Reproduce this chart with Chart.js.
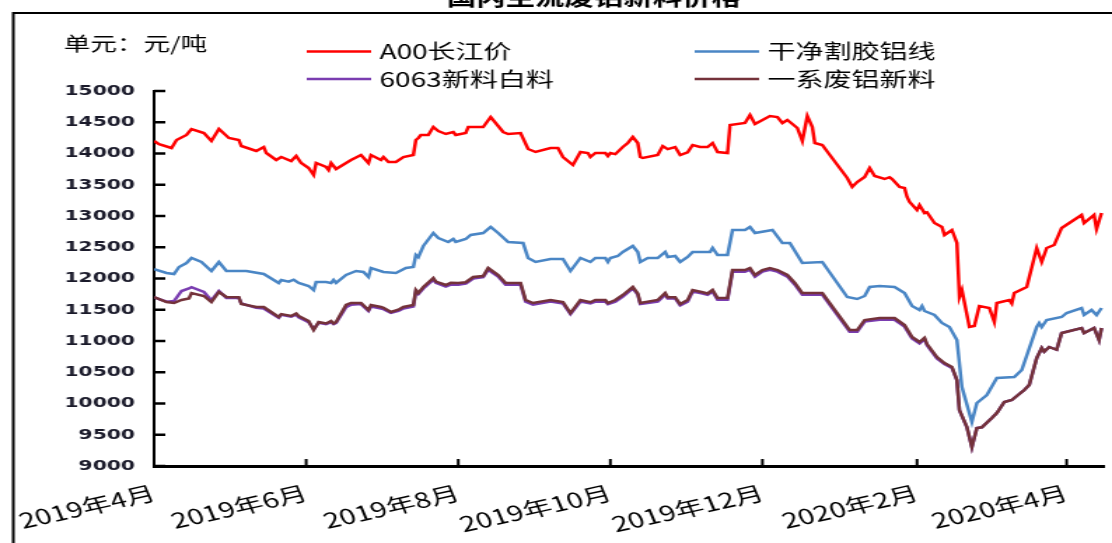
<!DOCTYPE html>
<html>
<head>
<meta charset="utf-8">
<script src="https://cdn.jsdelivr.net/npm/chart.js@4.4.1/dist/chart.umd.min.js"></script>
<style>
  html, body { margin: 0; padding: 0; background: #fff; overflow: hidden; }
  /* o original vem esticado na horizontal: desenha estreito e estica com CSS */
  #wrap { width: 794px; height: 543px; transform: scaleX(1.4005); transform-origin: 0 0; }
</style>
</head>
<body>
<div id="wrap"><canvas id="grafico"></canvas></div>
<script>
// dias contados a partir de 2019-04-01
const tickDias = [0, 61, 122, 183, 244, 306, 366];
const tickRotulos = ['2019年4月', '2019年6月', '2019年8月', '2019年10月', '2019年12月', '2020年2月', '2020年4月'];

// A00长江价
const diasA00 = [
  0, 2, 7, 9, 13, 15, 20, 23, 26, 30,
  34, 35, 41, 44, 45, 49, 51, 55, 57, 59,
  62, 64, 65, 69, 70, 71, 73, 79, 83, 86,
  87, 91, 92, 94, 97, 100, 104, 105, 106, 107,
  110, 112, 114, 117, 120, 121, 125, 126, 132, 135,
  140, 142, 147, 150, 153, 159, 162, 164, 168, 171,
  174, 175, 177, 181, 182, 183, 185, 188, 190, 192,
  194, 195, 196, 202, 204, 206, 209, 211, 214, 216,
  219, 222, 224, 226, 230, 231, 237, 239, 241, 247,
  250, 252, 254, 258, 260, 262, 264, 265, 268, 278,
  280, 282, 285, 287, 289, 293, 295, 296, 299, 301,
  302, 303, 306, 307, 309, 310, 313, 316, 317, 320,
  322, 323, 324, 327, 329, 331, 335, 337, 338, 343,
  344, 345, 350, 354, 356, 358, 361, 364, 372, 373,
  377, 378, 380
];
const precoA00 = [
  14200, 14150, 14088, 14216, 14296, 14392, 14328, 14200, 14392, 14248,
  14216, 14120, 14040, 14104, 14008, 13896, 13944, 13880, 13960, 13848,
  13768, 13656, 13848, 13784, 13736, 13848, 13752, 13896, 13976, 13848,
  13976, 13896, 13944, 13864, 13864, 13944, 13976, 14216, 14248, 14296,
  14296, 14424, 14360, 14312, 14344, 14296, 14328, 14424, 14424, 14584,
  14344, 14312, 14328, 14072, 14024, 14088, 14088, 13944, 13816, 14024,
  14008, 13944, 14008, 14008, 13960, 14008, 13990, 14104, 14168, 14264,
  14168, 13944, 13928, 13976, 14120, 14070, 14104, 13976, 14020, 14136,
  14104, 14104, 14168, 14024, 14008, 14456, 14488, 14616, 14472, 14600,
  14584, 14488, 14536, 14408, 14200, 14600, 14424, 14168, 14136, 13608,
  13464, 13544, 13624, 13768, 13640, 13592, 13620, 13592, 13464, 13448,
  13304, 13224, 13096, 13176, 13048, 13060, 12888, 12824, 12696, 12776,
  12568, 11704, 11816, 11224, 11240, 11560, 11528, 11304, 11608, 11656,
  11600, 11768, 11864, 12488, 12264, 12488, 12536, 12808, 13016, 12888,
  13016, 12792, 13048
];

// 干净割胶铝线
const diasFio = [
  0, 5, 8, 10, 13, 15, 19, 23, 26, 29,
  37, 44, 50, 51, 54, 56, 58, 62, 64, 65,
  69, 71, 72, 73, 77, 81, 84, 86, 87, 92,
  97, 101, 104, 105, 106, 108, 112, 114, 118, 120,
  121, 125, 127, 132, 135, 138, 142, 148, 150, 153,
  159, 164, 167, 171, 175, 177, 181, 182, 183, 186,
  188, 192, 194, 195, 198, 202, 205, 206, 209, 211,
  214, 216, 223, 224, 226, 230, 232, 237, 239, 241,
  248, 252, 255, 260, 268, 278, 282, 285, 287, 291,
  297, 301, 304, 307, 308, 309, 313, 316, 319, 322,
  324, 328, 330, 334, 338, 345, 348, 354, 355, 356,
  358, 364, 366, 372, 373, 376, 378, 380
];
const precoFio = [
  12150, 12088, 12072, 12184, 12248, 12328, 12264, 12120, 12264, 12120,
  12120, 12072, 11928, 11976, 11950, 11980, 11930, 11880, 11816, 11944,
  11944, 11928, 11976, 11930, 12056, 12120, 12104, 12024, 12168, 12104,
  12088, 12168, 12184, 12376, 12340, 12520, 12728, 12648, 12584, 12632,
  12584, 12632, 12696, 12728, 12824, 12728, 12584, 12568, 12328, 12264,
  12312, 12312, 12120, 12328, 12264, 12328, 12328, 12264, 12328, 12360,
  12424, 12520, 12424, 12264, 12328, 12328, 12424, 12344, 12360, 12264,
  12344, 12424, 12424, 12488, 12376, 12376, 12776, 12776, 12824, 12728,
  12776, 12568, 12568, 12248, 12264, 11704, 11672, 11720, 11864, 11880,
  11864, 11768, 11560, 11496, 11560, 11480, 11416, 11288, 11224, 11016,
  10264, 9704, 10008, 10136, 10408, 10424, 10536, 11224, 11288, 11224,
  11336, 11384, 11448, 11528, 11416, 11496, 11416, 11528
];

// 6063新料白料 e 一系废铝新料 (mesmas datas)
const diasSucata = [
  0, 5, 8, 11, 14, 15, 20, 23, 26, 29,
  34, 35, 41, 44, 50, 51, 55, 57, 58, 62,
  64, 66, 69, 71, 72, 73, 77, 79, 83, 86,
  87, 91, 92, 95, 98, 100, 104, 105, 106, 108,
  112, 113, 117, 119, 122, 125, 128, 132, 134, 138,
  141, 147, 149, 152, 159, 164, 167, 171, 175, 177,
  181, 182, 185, 188, 192, 194, 195, 202, 205, 206,
  209, 211, 214, 216, 220, 222, 224, 226, 230, 232,
  237, 239, 241, 244, 247, 250, 254, 257, 260, 268,
  279, 282, 285, 291, 297, 301, 304, 307, 309, 310,
  314, 317, 320, 322, 323, 326, 328, 330, 332, 336,
  338, 341, 344, 349, 351, 354, 356, 357, 359, 362,
  364, 372, 373, 377, 379, 380
];
const preco6063 = [
  11700, 11630, 11640, 11800, 11840, 11860, 11784, 11650, 11800, 11690,
  11690, 11600, 11530, 11520, 11370, 11420, 11390, 11420, 11380, 11300,
  11190, 11290, 11270, 11300, 11270, 11290, 11540, 11580, 11590, 11480,
  11550, 11520, 11510, 11450, 11480, 11520, 11550, 11790, 11750, 11840,
  11980, 11930, 11870, 11900, 11900, 11920, 12000, 12020, 12140, 12030,
  11900, 11900, 11630, 11580, 11630, 11600, 11430, 11630, 11600, 11630,
  11630, 11590, 11630, 11710, 11840, 11740, 11590, 11630, 11740, 11680,
  11680, 11570, 11630, 11790, 11760, 11740, 11790, 11660, 11660, 12110,
  12110, 12140, 12030, 12110, 12140, 12110, 12030, 11900, 11740, 11740,
  11150, 11150, 11310, 11340, 11340, 11230, 11040, 10960, 11030, 10930,
  10720, 10630, 10570, 10370, 9890, 9620, 9304, 9608, 9620, 9768,
  9848, 10024, 10056, 10216, 10296, 10728, 10888, 10830, 10904, 10860,
  11128, 11208, 11128, 11208, 11016, 11208
];
const precoSerie1 = [
  11704, 11624, 11608, 11656, 11680, 11768, 11720, 11624, 11784, 11704,
  11700, 11592, 11544, 11544, 11384, 11430, 11400, 11440, 11400, 11320,
  11176, 11304, 11280, 11320, 11280, 11304, 11576, 11608, 11608, 11496,
  11576, 11544, 11530, 11464, 11500, 11544, 11576, 11816, 11770, 11864,
  12008, 11950, 11896, 11930, 11928, 11940, 12024, 12040, 12168, 12056,
  11928, 11928, 11656, 11608, 11656, 11624, 11448, 11656, 11620, 11656,
  11656, 11608, 11656, 11736, 11864, 11760, 11608, 11656, 11768, 11700,
  11700, 11592, 11656, 11816, 11780, 11760, 11816, 11688, 11688, 12136,
  12136, 12168, 12056, 12136, 12168, 12136, 12056, 11928, 11768, 11768,
  11176, 11176, 11336, 11368, 11368, 11256, 11064, 10984, 11050, 10952,
  10744, 10648, 10584, 10376, 9896, 9624, 9304, 9608, 9620, 9768,
  9848, 10024, 10056, 10216, 10296, 10728, 10888, 10830, 10904, 10860,
  11128, 11208, 11128, 11208, 11016, 11208
];

const FONTE_CJK = "'Noto Sans CJK SC', 'Noto Sans', sans-serif";
const pares = (dias, precos) => dias.map((d, i) => ({ x: d, y: precos[i] }));

const series = [
  { label: 'A00长江价', data: pares(diasA00, precoA00), borderColor: '#FF0000', order: 3 },
  { label: '干净割胶铝线', data: pares(diasFio, precoFio), borderColor: '#4A86C5', order: 2 },
  { label: '6063新料白料', data: pares(diasSucata, preco6063), borderColor: '#7A3DB0', order: 1 },
  { label: '一系废铝新料', data: pares(diasSucata, precoSerie1), borderColor: '#74323A', order: 0 }
].map(s => ({ ...s, borderWidth: 2.5, pointRadius: 0, tension: 0, fill: false }));

// marcas de escala para dentro do gráfico (estilo Excel)
const marcasInternas = {
  id: 'marcasInternas',
  afterDraw(chart) {
    const { ctx, chartArea, scales } = chart;
    ctx.save();
    ctx.strokeStyle = '#000';
    ctx.lineWidth = 2.5;
    scales.y.ticks.forEach(t => {
      const y = scales.y.getPixelForValue(t.value);
      ctx.beginPath();
      ctx.moveTo(chartArea.left, y);
      ctx.lineTo(chartArea.left + 8, y);
      ctx.stroke();
    });
    ctx.lineWidth = 2;
    scales.x.ticks.forEach(t => {
      const x = scales.x.getPixelForValue(t.value);
      ctx.beginPath();
      ctx.moveTo(x, chartArea.bottom);
      ctx.lineTo(x, chartArea.bottom - 7);
      ctx.stroke();
    });
    ctx.restore();
  }
};

// moldura, título cortado, unidade e legenda em 2x2
const decoracao = {
  id: 'decoracao',
  afterDraw(chart) {
    const ctx = chart.ctx;
    ctx.save();
    ctx.strokeStyle = '#000';
    ctx.lineWidth = 2;
    ctx.beginPath();
    ctx.moveTo(9.5, 543);
    ctx.lineTo(9.5, 13);
    ctx.lineTo(794, 13);
    ctx.stroke();

    ctx.fillStyle = '#000';
    ctx.textAlign = 'center';
    ctx.textBaseline = 'alphabetic';
    ctx.font = 'bold 21px ' + FONTE_CJK;
    ctx.fillText('国内主流废铝新料价格', 424, 5);

    ctx.textAlign = 'left';
    ctx.textBaseline = 'middle';
    ctx.font = '19px ' + FONTE_CJK;
    ctx.fillText('单元：元/吨', 45.5, 44);

    const colX = [219, 496];
    const linhaY = [51.5, 79];
    ctx.font = '20px ' + FONTE_CJK;
    chart.data.datasets.forEach((ds, i) => {
      const x = colX[i % 2];
      const y = linhaY[Math.floor(i / 2)];
      ctx.strokeStyle = ds.borderColor;
      ctx.lineWidth = 2.5;
      ctx.beginPath();
      ctx.moveTo(x, y);
      ctx.lineTo(x + 46, y);
      ctx.stroke();
      ctx.fillStyle = '#000';
      ctx.fillText(ds.label, x + 52, y);
    });
    ctx.restore();
  }
};

new Chart(document.getElementById('grafico'), {
  type: 'line',
  data: { datasets: series },
  options: {
    responsive: true,
    maintainAspectRatio: false,
    animation: false,
    layout: { padding: { top: 91, right: 5.7, left: 0, bottom: 0 } },
    plugins: { legend: { display: false }, title: { display: false }, tooltip: { enabled: false } },
    scales: {
      x: {
        type: 'linear',
        min: 0,
        max: 381,
        afterBuildTicks: s => { s.ticks = tickDias.map(v => ({ value: v })); },
        afterFit: s => { s.height = 77; },
        border: { color: '#000', width: 3 },
        grid: { drawOnChartArea: false, drawTicks: false },
        ticks: {
          autoSkip: false,
          minRotation: 17,
          maxRotation: 17,
          padding: 14,
          color: '#000',
          font: { family: FONTE_CJK, size: 21 },
          callback: (v, i) => tickRotulos[i]
        }
      },
      y: {
        min: 9000,
        max: 15000,
        afterFit: s => { s.width = 110; },
        border: { color: '#000', width: 2 },
        grid: { drawOnChartArea: false, drawTicks: false },
        ticks: {
          stepSize: 500,
          padding: 13.6,
          color: '#1a1a2a',
          font: { family: 'DejaVu Sans', size: 14.5, weight: 'bold' },
          callback: v => String(v)
        }
      }
    }
  },
  plugins: [marcasInternas, decoracao]
});
</script>
</body>
</html>
